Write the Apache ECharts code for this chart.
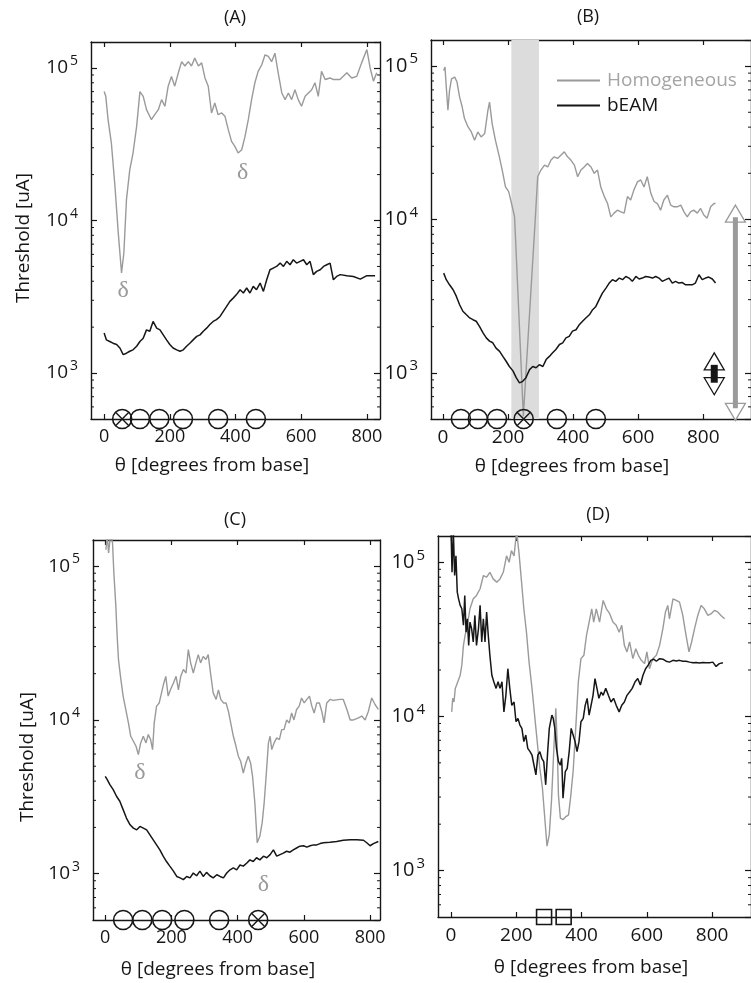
<!DOCTYPE html>
<html><head><meta charset="utf-8">
<script src="https://cdn.jsdelivr.net/npm/echarts@6/dist/echarts.min.js"></script>
<style>html,body{margin:0;padding:0;background:#fff}#c{width:751px;height:983px}</style>
</head><body><div id="c"></div>
<script>
// ---------- data ----------
const xTicks = [0, 200, 400, 600, 800];
const yMinorTicks = [600,700,800,900,2000,3000,4000,5000,6000,7000,8000,9000,20000,30000,40000,50000,60000,70000,80000,90000];
const panelTitles = ['(A)', '(B)', '(C)', '(D)'];
const seriesNames = ['Homogeneous', 'bEAM'];
const yAxisName = 'Threshold [uA]';
const xAxisName = '\u03b8 [degrees from base]';

const aHomogeneous = [[0,70000],[5,65200],[12,45800],[22,32200],[33,16700],[43,8300],[53,4530],[60,6120],[68,13700],[78,21500],[88,27700],[99,41400],[109,70000],[119,65200],[129,53300],[144,45800],[154,49400],[165,53300],[175,62000],[185,56100],[195,76000],[205,88000],[215,76000],[226,93000],[236,110000],[246,103000],[256,110000],[266,103000],[276,116000],[287,103000],[297,108000],[307,86000],[317,76000],[327,50700],[337,58900],[347,49400],[358,50700],[368,48200],[378,39400],[388,33000],[398,30600],[408,27700],[419,29100],[429,35600],[439,45800],[449,62000],[459,80000],[469,95000],[480,105000],[490,122000],[500,119000],[510,110000],[520,125000],[530,93000],[541,68600],[551,62000],[561,68600],[571,62000],[581,72000],[591,62000],[601,56100],[612,65200],[622,68600],[632,72000],[642,80000],[652,65200],[662,95000],[673,84000],[688,86000],[698,84000],[718,84000],[739,93000],[754,86000],[769,88000],[784,108000],[800,132000],[810,100000],[820,82000],[830,93000]];
const aBeam = [[0,1830],[7,1650],[17,1610],[27,1570],[38,1540],[48,1460],[58,1320],[68,1350],[78,1390],[88,1420],[99,1500],[109,1610],[119,1690],[129,1920],[139,1880],[149,2180],[160,1970],[170,1920],[180,1780],[190,1650],[200,1540],[210,1460],[221,1420],[231,1390],[241,1420],[251,1500],[261,1570],[271,1650],[282,1740],[292,1780],[302,1880],[312,1970],[322,2080],[332,2180],[342,2240],[353,2350],[363,2540],[373,2740],[383,2950],[393,3100],[403,3270],[414,3520],[424,3350],[434,3610],[444,3350],[454,3700],[464,3520],[475,3890],[485,3430],[495,4090],[505,4760],[515,4880],[525,5000],[536,5260],[546,5000],[556,5400],[566,5130],[576,5530],[586,5260],[597,5400],[607,5530],[617,5130],[627,5400],[637,4420],[647,4640],[658,4760],[668,5000],[678,5130],[688,5260],[698,4090],[708,4300],[719,4420],[739,4350],[759,4300],[780,4130],[800,4350],[825,4350]];
const aElectrodes = [55, 109, 168, 240, 347, 462];
const aStimulated = [55];
const aDeltas = [[58, 3480], [422, 20500]];

const bHomogeneous = [[2,93700],[6,98500],[10,73000],[15,51500],[20,69500],[26,82700],[36,84800],[43,78700],[51,62800],[59,54100],[66,45500],[77,40100],[87,37200],[97,32900],[107,37200],[117,34500],[128,36300],[138,51500],[143,58300],[151,42200],[161,32900],[172,26300],[182,21000],[192,16300],[202,15200],[213,12100],[220,10400],[247,522],[284,10400],[291,19000],[301,21000],[312,22600],[322,22000],[332,24400],[342,25600],[352,25000],[363,26300],[373,27600],[383,25600],[393,24400],[404,22600],[414,19000],[424,21000],[434,22000],[444,23200],[455,22000],[465,20000],[475,21000],[485,16300],[496,14100],[506,12700],[516,10400],[526,11000],[536,11500],[547,11200],[557,11000],[567,14100],[577,13400],[587,15600],[598,17600],[608,18100],[618,16300],[628,19000],[639,14800],[649,13100],[659,12700],[669,11500],[679,13400],[690,14400],[700,12400],[710,12100],[720,12100],[731,12400],[741,11200],[751,10400],[761,11200],[771,11500],[782,11000],[792,11800],[802,10700],[812,10200],[823,12100],[833,12700],[838,12700]];
const bBeam = [[2,4470],[10,4050],[20,3750],[31,3480],[41,3150],[51,2780],[61,2520],[72,2390],[82,2280],[92,2220],[102,2170],[112,2010],[123,1820],[133,1690],[143,1610],[153,1570],[163,1450],[174,1380],[184,1280],[194,1190],[204,1100],[215,1030],[225,930],[235,860],[245,880],[255,930],[266,1050],[276,1100],[286,1080],[296,1130],[307,1100],[317,1220],[327,1280],[337,1350],[347,1420],[358,1530],[368,1570],[378,1690],[388,1730],[398,1870],[409,1910],[419,2060],[429,2170],[439,2280],[450,2390],[460,2580],[470,2710],[480,3000],[490,3310],[501,3570],[511,3850],[521,4050],[531,3950],[542,4150],[552,4050],[562,4250],[572,4150],[582,3950],[593,4250],[603,4090],[613,4150],[623,4250],[633,4210],[644,4150],[654,4250],[664,4150],[674,3950],[685,4050],[695,4150],[705,3850],[715,3950],[725,3850],[736,3880],[746,3750],[756,3750],[766,3750],[776,3850],[787,4360],[797,4050],[807,4150],[817,4210],[828,4090],[838,3850]];
const bElectrodes = [55, 107, 166, 248, 350, 470];
const bStimulated = [248];
const bShadedBand = [210, 295];
const bRangeArrows = [[899, 490, 12400], [834, 720, 1350]]; // [theta, low, high]

const cHomogeneous = [[2,128000],[6,160000],[10,122000],[16,160000],[22,142000],[26,90500],[32,55000],[36,35000],[40,24700],[46,19200],[54,14300],[62,11700],[70,9560],[77,7830],[85,7270],[93,6740],[100,5950],[107,7090],[115,7830],[123,7090],[130,8040],[137,7450],[143,6410],[148,9560],[155,12300],[163,12900],[170,15000],[177,17400],[183,19200],[190,14300],[197,15700],[206,17400],[214,19200],[221,15700],[228,19200],[236,21300],[244,20200],[251,28700],[258,23500],[266,20200],[274,23500],[281,26600],[288,23500],[296,25900],[304,24700],[311,26600],[318,20200],[326,15000],[335,13600],[342,15700],[349,13600],[357,12900],[365,12900],[372,11400],[379,9560],[387,7830],[395,6740],[402,5810],[409,5390],[417,4520],[425,5250],[432,5810],[439,5250],[445,4300],[452,2880],[459,1590],[467,1750],[474,2140],[480,2880],[486,4300],[493,7090],[498,7830],[503,6410],[510,7090],[518,7640],[526,7450],[533,8650],[540,8650],[548,10000],[556,9560],[563,11100],[570,10000],[578,11700],[586,12300],[593,13900],[601,12900],[609,13600],[617,14300],[624,12300],[631,11100],[639,12900],[647,12900],[654,11400],[661,9560],[669,12900],[679,13600],[689,13400],[709,13600],[719,13600],[730,11700],[740,10000],[750,10000],[765,10300],[775,10600],[785,10000],[795,11400],[805,13900],[815,12600],[825,11700]];
const cBeam = [[0,4300],[6,4090],[14,3800],[24,3520],[34,3190],[44,2960],[54,2610],[64,2300],[75,2080],[85,1980],[95,1930],[105,2030],[115,1980],[125,1930],[135,1790],[145,1660],[155,1540],[165,1430],[175,1300],[185,1200],[195,1120],[206,1040],[216,960],[226,940],[236,915],[246,960],[256,940],[266,1010],[276,970],[286,1040],[296,960],[306,1020],[316,970],[326,940],[337,985],[347,960],[357,940],[367,1010],[377,1060],[387,1090],[397,1060],[407,1140],[417,1120],[427,1170],[437,1230],[447,1200],[457,1270],[467,1230],[478,1300],[488,1270],[498,1330],[508,1430],[518,1300],[528,1330],[538,1360],[548,1400],[558,1380],[568,1430],[578,1470],[588,1510],[599,1520],[609,1490],[619,1520],[629,1540],[639,1540],[649,1570],[659,1590],[679,1600],[699,1620],[719,1650],[740,1660],[760,1660],[780,1650],[790,1590],[800,1520],[810,1570],[825,1620]];
const cElectrodes = [54, 112, 172, 239, 344, 462];
const cStimulated = [462];
const cDeltas = [[105, 4570], [478, 850]];

const dHomogeneous = [[2,10700],[5,13100],[9,12400],[13,15200],[17,16000],[22,15600],[28,18500],[33,21500],[38,28900],[43,33600],[48,37100],[53,43000],[58,49900],[68,57900],[78,60900],[89,67300],[99,82000],[109,80000],[119,86100],[129,78000],[140,74300],[150,78000],[160,86100],[170,110000],[178,100000],[185,119000],[193,110000],[201,160000],[209,110000],[216,74300],[223,49900],[231,35200],[239,22500],[248,15200],[256,10200],[264,6860],[272,4610],[280,3420],[288,2080],[294,1440],[301,1710],[308,2900],[315,6210],[321,11300],[325,6860],[329,3100],[335,2190],[343,2140],[352,2240],[360,2300],[366,2950],[374,4390],[382,8360],[390,16800],[398,23700],[407,24900],[415,33600],[423,40900],[431,49900],[437,40900],[445,49900],[455,40900],[466,56500],[476,49900],[486,46400],[496,40900],[506,39000],[515,35200],[523,39000],[531,28900],[539,26200],[547,30400],[557,23700],[566,27500],[574,24900],[583,23100],[593,22000],[600,26200],[608,20400],[618,23700],[629,24900],[639,28900],[649,37100],[657,47600],[664,52500],[669,43000],[680,57900],[690,56500],[700,55100],[710,45200],[720,33600],[729,26200],[737,30400],[746,37100],[756,45200],[766,52500],[776,49900],[787,45200],[797,46400],[807,48700],[817,47600],[827,45200],[838,43000]];
const dBeam = [[0,160000],[3,86100],[7,160000],[11,82000],[15,110000],[19,64000],[23,57900],[28,52500],[33,49900],[38,39000],[42,60900],[46,35200],[50,43000],[54,28900],[58,40900],[63,37100],[68,30400],[73,45200],[78,28900],[84,37100],[89,52500],[94,30400],[99,43000],[104,30400],[109,47600],[114,33600],[119,24900],[125,18500],[131,16800],[138,15200],[144,16800],[150,15200],[156,16800],[162,10700],[168,13700],[174,20400],[180,15200],[186,11800],[193,12400],[199,9240],[205,9710],[211,8790],[217,8360],[223,6860],[229,7570],[235,6210],[242,5910],[248,5620],[254,4840],[260,4180],[266,5620],[272,5910],[278,5350],[284,5090],[290,3600],[296,5910],[301,8360],[305,9240],[309,10200],[313,9710],[318,8360],[323,6210],[329,5090],[335,4840],[339,5350],[343,2950],[350,4390],[356,4610],[362,5910],[368,8360],[374,7570],[380,6860],[386,5910],[392,6860],[398,9240],[405,9710],[411,11800],[417,13100],[423,10200],[429,11800],[435,13700],[441,17600],[447,15200],[453,13100],[460,14400],[466,13700],[474,15200],[482,13700],[490,12400],[498,13100],[506,11800],[515,10700],[523,11800],[531,12400],[539,13700],[547,14400],[555,15200],[564,16800],[572,17600],[580,16000],[588,18500],[596,20400],[604,21500],[612,23100],[621,23500],[629,22800],[639,23700],[649,23500],[659,22800],[669,22500],[680,23100],[690,22900],[700,23100],[710,22800],[720,22800],[731,22500],[741,22300],[751,22400],[761,22200],[771,22400],[782,22300],[792,22300],[802,22500],[812,21100],[822,22000],[833,22300]];
const dContacts = [285, 345];

// ---------- styling / layout ----------
const INK = '#161616';
const GRAY = '#9a9a9a';
const FONT = '"Open Sans", sans-serif';
const Y_MIN = 500, Y_MAX = 148000;

const panels = [
  { box: [91, 42, 289, 377], x: [-40, 840], fs: 18, hom: aHomogeneous, beam: aBeam, electrodes: aElectrodes, stim: aStimulated, deltas: aDeltas },
  { box: [431, 40, 321, 379], x: [-37, 947], fs: 19, hom: bHomogeneous, beam: bBeam, electrodes: bElectrodes, stim: bStimulated, band: bShadedBand, arrows: bRangeArrows },
  { box: [93, 540, 287, 380], x: [-37, 830], fs: 18, hom: cHomogeneous, beam: cBeam, electrodes: cElectrodes, stim: cStimulated, deltas: cDeltas },
  { box: [438, 536, 314, 381], x: [-40, 919], fs: 19, hom: dHomogeneous, beam: dBeam, contacts: dContacts }
];

const grid = [], xAxis = [], yAxis = [], series = [];

function powLabel(v) {
  const e = Math.round(Math.log10(v));
  if (Math.abs(Math.log10(v) - e) > 1e-6) return '';
  return '{b|10}{s|' + e + '}';
}

panels.forEach((p, i) => {
  grid.push({ left: p.box[0], top: p.box[1], width: p.box[2], height: p.box[3], containLabel: false });
  const xi = xAxis.length, yi = yAxis.length;
  const line = { show: true, onZero: false, lineStyle: { color: INK, width: 1.4 } };
  xAxis.push({ gridIndex: i, type: 'value', position: 'bottom', min: p.x[0], max: p.x[1],
    axisLine: line,
    axisTick: { show: true, inside: true, length: 5, customValues: xTicks, lineStyle: { color: INK, width: 1.2 } },
    axisLabel: { show: true, customValues: xTicks, margin: 9, fontSize: p.fs, fontFamily: FONT, color: INK },
    splitLine: { show: false } });
  xAxis.push({ gridIndex: i, type: 'value', position: 'top', min: p.x[0], max: p.x[1],
    axisLine: line,
    axisTick: { show: true, inside: true, length: 5, customValues: xTicks, lineStyle: { color: INK, width: 1.2 } },
    axisLabel: { show: false }, splitLine: { show: false } });
  yAxis.push({ gridIndex: i, type: 'log', logBase: 10, position: 'left', min: Y_MIN, max: Y_MAX,
    axisLine: line,
    axisTick: { show: true, inside: true, length: 6, lineStyle: { color: INK, width: 1.2 } },
    axisLabel: { show: true, showMinLabel: false, showMaxLabel: false, margin: 13, formatter: powLabel,
      rich: { b: { fontSize: p.fs + 1, fontFamily: FONT, color: INK },
              s: { fontSize: p.fs - 4, fontFamily: FONT, color: INK, padding: [0, 0, 14, 2] } } },
    splitLine: { show: false } });
  yAxis.push({ gridIndex: i, type: 'log', logBase: 10, position: 'right', min: Y_MIN, max: Y_MAX,
    axisLine: line,
    axisTick: { show: true, inside: true, length: 6, lineStyle: { color: INK, width: 1.2 } },
    axisLabel: { show: false }, splitLine: { show: false } });

  const common = { xAxisIndex: xi, yAxisIndex: yi, animation: false, silent: true };

  if (p.band) {
    series.push(Object.assign({ type: 'custom', z: 1, data: [[p.band[0], Y_MIN, p.band[1]]],
      renderItem: (params, api) => {
        const cs = params.coordSys;
        const x0 = api.coord([api.value(0), 1000])[0];
        const x1 = api.coord([api.value(2), 1000])[0];
        return { type: 'rect', shape: { x: x0, y: cs.y, width: x1 - x0, height: cs.height }, style: { fill: '#dcdcdc' } };
      } }, common));
  }

  series.push(Object.assign({ type: 'line', name: seriesNames[0], data: p.hom, showSymbol: false, symbol: 'none', z: 3,
    lineStyle: { color: GRAY, width: 1.4 }, itemStyle: { color: GRAY } }, common));
  series.push(Object.assign({ type: 'line', name: seriesNames[1], data: p.beam, showSymbol: false, symbol: 'none', z: 4,
    lineStyle: { color: INK, width: 1.5 }, itemStyle: { color: INK } }, common));

  // minor log ticks, both sides
  series.push(Object.assign({ type: 'custom', z: 5, data: yMinorTicks.map(v => [0, v]),
    renderItem: (params, api) => {
      const cs = params.coordSys;
      const y = api.coord([0, api.value(1)])[1];
      return { type: 'group', children: [
        { type: 'line', shape: { x1: cs.x, y1: y, x2: cs.x + 3, y2: y }, style: { stroke: INK, lineWidth: 1 } },
        { type: 'line', shape: { x1: cs.x + cs.width - 3, y1: y, x2: cs.x + cs.width, y2: y }, style: { stroke: INK, lineWidth: 1 } }
      ] };
    } }, common));

  if (p.electrodes) {
    series.push(Object.assign({ type: 'custom', z: 6, data: p.electrodes.map(x => [x, Y_MIN, p.stim.indexOf(x) >= 0 ? 1 : 0]),
      renderItem: (params, api) => {
        const cs = params.coordSys;
        const cx = api.coord([api.value(0), 1000])[0];
        const cy = cs.y + cs.height;
        const r = 9.5, d = r * 0.7;
        const ch = [{ type: 'circle', shape: { cx, cy, r }, style: { fill: 'none', stroke: INK, lineWidth: 1.6 } }];
        if (api.value(2) === 1) {
          ch.push({ type: 'line', shape: { x1: cx - d, y1: cy - d, x2: cx + d, y2: cy + d }, style: { stroke: INK, lineWidth: 1.4 } });
          ch.push({ type: 'line', shape: { x1: cx - d, y1: cy + d, x2: cx + d, y2: cy - d }, style: { stroke: INK, lineWidth: 1.4 } });
        }
        return { type: 'group', children: ch };
      } }, common));
  }

  if (p.contacts) {
    series.push(Object.assign({ type: 'custom', z: 6, data: p.contacts.map(x => [x, Y_MIN]),
      renderItem: (params, api) => {
        const cs = params.coordSys;
        const cx = api.coord([api.value(0), 1000])[0];
        const cy = cs.y + cs.height;
        return { type: 'rect', shape: { x: cx - 7.5, y: cy - 7.5, width: 15, height: 15 }, style: { fill: 'none', stroke: INK, lineWidth: 1.6 } };
      } }, common));
  }

  if (p.deltas) {
    series.push(Object.assign({ type: 'custom', z: 6, data: p.deltas,
      renderItem: (params, api) => {
        const pt = api.coord([api.value(0), api.value(1)]);
        return { type: 'text', style: { text: '\u03b4', x: pt[0], y: pt[1], align: 'center', verticalAlign: 'middle',
          font: '24px "Liberation Serif", serif', fill: GRAY } };
      } }, common));
  }

  if (p.arrows) {
    const arrowColors = [GRAY, INK];
    const barWidths = [5, 7];
    series.push(Object.assign({ type: 'custom', z: 7, data: p.arrows,
      renderItem: (params, api) => {
        const idx = params.dataIndex;
        const col = arrowColors[idx], bw = barWidths[idx];
        const x = api.coord([api.value(0), 1000])[0];
        const yLo = api.coord([api.value(0), api.value(1)])[1];
        const yHi = api.coord([api.value(0), api.value(2)])[1];
        const h = 17, w = 10;
        return { type: 'group', children: [
          { type: 'polygon', shape: { points: [[x, yHi], [x - w, yHi + h], [x + w, yHi + h]] }, style: { fill: '#fff', stroke: col, lineWidth: 1.3 } },
          { type: 'polygon', shape: { points: [[x, yLo], [x - w, yLo - h], [x + w, yLo - h]] }, style: { fill: '#fff', stroke: col, lineWidth: 1.3 } },
          { type: 'line', shape: { x1: x, y1: yHi + 12, x2: x, y2: yLo - 12 }, style: { stroke: col, lineWidth: bw } }
        ] };
      } }, common));
  }
});

const graphic = [
  { type: 'text', x: 235, y: 18, style: { text: panelTitles[0], font: '18px ' + FONT, fill: INK, align: 'center', verticalAlign: 'middle' } },
  { type: 'text', x: 588, y: 17, style: { text: panelTitles[1], font: '18px ' + FONT, fill: INK, align: 'center', verticalAlign: 'middle' } },
  { type: 'text', x: 235, y: 520, style: { text: panelTitles[2], font: '18px ' + FONT, fill: INK, align: 'center', verticalAlign: 'middle' } },
  { type: 'text', x: 598, y: 515, style: { text: panelTitles[3], font: '18px ' + FONT, fill: INK, align: 'center', verticalAlign: 'middle' } },
  { type: 'text', x: 24, y: 238, rotation: Math.PI / 2, style: { text: yAxisName, font: '19px ' + FONT, fill: INK, align: 'center', verticalAlign: 'middle' } },
  { type: 'text', x: 28, y: 757, rotation: Math.PI / 2, style: { text: yAxisName, font: '19px ' + FONT, fill: INK, align: 'center', verticalAlign: 'middle' } },
  { type: 'text', x: 212, y: 466, style: { text: xAxisName, font: '19px ' + FONT, fill: INK, align: 'center', verticalAlign: 'middle' } },
  { type: 'text', x: 572, y: 467, style: { text: xAxisName, font: '19px ' + FONT, fill: INK, align: 'center', verticalAlign: 'middle' } },
  { type: 'text', x: 218, y: 970, style: { text: xAxisName, font: '19px ' + FONT, fill: INK, align: 'center', verticalAlign: 'middle' } },
  { type: 'text', x: 591, y: 968, style: { text: xAxisName, font: '19px ' + FONT, fill: INK, align: 'center', verticalAlign: 'middle' } }
];

const chart = echarts.init(document.getElementById('c'));
chart.setOption({
  backgroundColor: '#fff',
  animation: false,
  grid, xAxis, yAxis, series, graphic,
  legend: {
    left: 552, top: 66, orient: 'vertical', itemWidth: 43, itemHeight: 2, itemGap: 6,
    selectedMode: false, icon: 'rect',
    textStyle: { fontSize: 19, fontFamily: FONT, lineHeight: 18, padding: [0, 0, 0, 2] },
    data: [
      { name: seriesNames[0], textStyle: { color: '#a4a4a4' } },
      { name: seriesNames[1], textStyle: { color: INK } }
    ]
  }
});
</script>
</body></html>
